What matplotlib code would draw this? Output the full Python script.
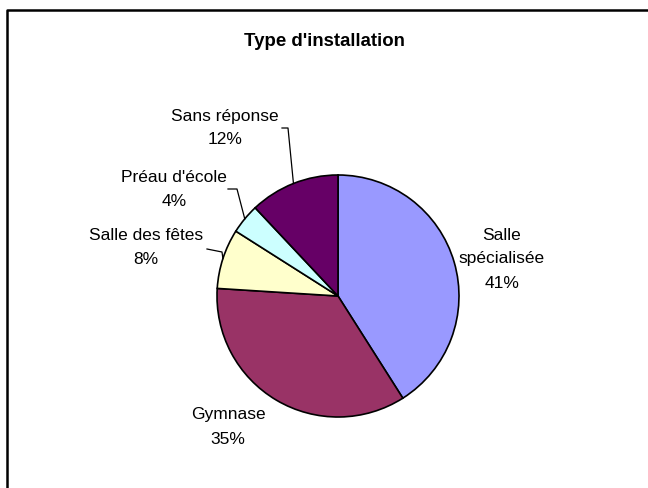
import numpy as np
import matplotlib
matplotlib.use("Agg")
from matplotlib import pyplot as plt

plt.rcParams['font.family'] = ['Liberation Sans', 'DejaVu Sans']

# données
categories = ['Salle\nspécialisée', 'Gymnase', 'Salle des fêtes', "Préau d'école", 'Sans réponse']
valeurs = [41, 35, 8, 4, 12]
couleurs = ['#9999FF', '#993366', '#FFFFCC', '#CCFFFF', '#660066']
titre = "Type d'installation"

W, H = 648, 488
cx, cy, r = 338, 296, 121  # centre et rayon en pixels (depuis le haut)

# position des étiquettes (centre du texte) et coude de la ligne de rappel
pos_etiq = [(502, 259), (228, 427), (146, 248), (174, 190), (225, 128)]
coudes = [None, None, [(207, 249), (222, 252)], [(228, 189), (237, 189)], [(282, 128), (288, 128)]]


def haut(y):
    return H - y


fig = plt.figure(figsize=(W / 100, H / 100), dpi=100)
ax = fig.add_axes([0, 0, 1, 1])
ax.set_xlim(0, W)
ax.set_ylim(0, H)
ax.set_aspect('equal')
ax.axis('off')

wedges, _ = ax.pie(valeurs, colors=couleurs, startangle=90, counterclock=False,
                   center=(cx, haut(cy)), radius=r,
                   wedgeprops=dict(edgecolor='black', linewidth=1.2))
ax.set_xlim(0, W)
ax.set_ylim(0, H)

for i, w in enumerate(wedges):
    lx, ly = pos_etiq[i]
    ax.text(lx, haut(ly), '%s\n%d%%' % (categories[i], valeurs[i]),
            ha='center', va='center', fontsize=12.5, color='black', linespacing=1.75)
    if coudes[i] is not None:
        ang = np.deg2rad((w.theta1 + w.theta2) / 2)
        ex = cx + r * np.cos(ang)
        ey = haut(cy) + r * np.sin(ang)
        xs = [p[0] for p in coudes[i]] + [ex]
        ys = [haut(p[1]) for p in coudes[i]] + [ey]
        ax.plot(xs, ys, color='black', linewidth=0.9)

ax.text(W / 2, haut(41), titre, ha='center', va='center', fontsize=13.4, fontweight='bold')

# cadre (haut et gauche seulement visibles)
ax.plot([7, 7, W + 5], [-5, haut(9.5), haut(9.5)], color='black', linewidth=1.8, clip_on=False)

fig.savefig('out.png', dpi=100)
